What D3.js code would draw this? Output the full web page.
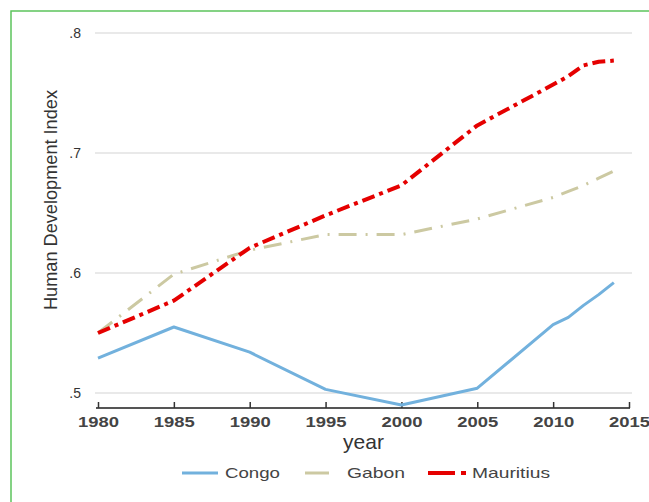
<!DOCTYPE html>
<html>
<head>
<meta charset="utf-8">
<script src="https://cdn.jsdelivr.net/npm/d3@7"></script>
<style>
  body { margin: 0; background: #fff; }
  svg { display: block; font-family: "Liberation Sans", Arial, sans-serif; }
</style>
</head>
<body>
<svg id="chart" width="649" height="502"></svg>
<script>
const years = [1980, 1985, 1990, 1995, 2000, 2005, 2010, 2011, 2012, 2013, 2014];
const congo = [0.529, 0.555, 0.534, 0.503, 0.490, 0.504, 0.557, 0.563, 0.573, 0.582, 0.592];
const gabon = [0.550, 0.599, 0.619, 0.632, 0.632, 0.645, 0.663, 0.668, 0.673, 0.679, 0.685];
const mauritius = [0.550, 0.577, 0.621, 0.648, 0.673, 0.723, 0.757, 0.764, 0.773, 0.776, 0.777];

const xTicks = [1980, 1985, 1990, 1995, 2000, 2005, 2010, 2015];
const yTicks = [0.5, 0.6, 0.7, 0.8];

const series = [
  {name: 'Congo', values: congo, color: '#72b1dd', width: 3, dash: null},
  {name: 'Gabon', values: gabon, color: '#ccc9a2', width: 3, dash: '18,9,2,9'},
  {name: 'Mauritius', values: mauritius, color: '#e50000', width: 4, dash: '13,5,4,5'}
];

const svg = d3.select('#chart');

// green frame round the picture
svg.append('path')
    .attr('d', 'M11,502 V11 H649')
    .attr('fill', 'none')
    .attr('stroke', '#5cc45c')
    .attr('stroke-width', 1.5);

const x = d3.scaleLinear().domain([1980, 2015]).range([98, 629]);
const y = d3.scaleLinear().domain([0.5, 0.8]).range([393, 33]);
const axisY = 408;

// grid
svg.append('g')
  .selectAll('line')
  .data(yTicks)
  .join('line')
    .attr('x1', 95)
    .attr('x2', 632)
    .attr('y1', d => y(d))
    .attr('y2', d => y(d))
    .attr('stroke', '#e2e2e2')
    .attr('stroke-width', 1.5);

// y tick labels
svg.append('g')
  .selectAll('text')
  .data(yTicks)
  .join('text')
    .attr('x', 81)
    .attr('y', d => y(d))
    .attr('dy', '0.35em')
    .attr('text-anchor', 'end')
    .attr('font-size', 14)
    .attr('fill', '#333')
    .text(d => d3.format('.1f')(d).replace(/^0/, ''));

// x axis
const xAxis = svg.append('g')
    .attr('transform', `translate(0,${axisY})`)
    .call(d3.axisBottom(x).tickValues(xTicks).tickFormat(d3.format('d')).tickSize(-6).tickPadding(8));
xAxis.select('.domain').attr('stroke', '#555').attr('stroke-width', 2).attr('d', `M96,0H${x(2015) + 1}`);
xAxis.selectAll('.tick line').attr('stroke', '#333').attr('stroke-width', 1.5);
xAxis.selectAll('.tick text')
    .attr('font-family', '"Liberation Sans", Arial, sans-serif')
    .attr('font-size', 15)
    .attr('font-weight', 'bold')
    .attr('fill', '#444')
    .attr('textLength', 41)
    .attr('lengthAdjust', 'spacingAndGlyphs');

// axis titles
svg.append('text')
    .attr('x', (x(1980) + x(2015)) / 2)
    .attr('y', 449)
    .attr('text-anchor', 'middle')
    .attr('font-size', 21)
    .attr('fill', '#333')
    .text('year');

svg.append('text')
    .attr('transform', `translate(57,200) rotate(-90)`)
    .attr('text-anchor', 'middle')
    .attr('font-size', 19)
    .attr('fill', '#333')
    .attr('textLength', 220)
    .attr('lengthAdjust', 'spacingAndGlyphs')
    .text('Human Development Index');

// lines
const line = d3.line()
    .x((d, i) => x(years[i]))
    .y(d => y(d));

svg.append('g')
  .selectAll('path')
  .data(series)
  .join('path')
    .attr('d', d => line(d.values))
    .attr('fill', 'none')
    .attr('stroke', d => d.color)
    .attr('stroke-width', d => d.width)
    .attr('stroke-dasharray', d => d.dash)
    .attr('stroke-linejoin', 'round');

// legend
const legendKeys = [
  {x1: 182, x2: 218, dash: null, textX: 225, textW: 55},
  {x1: 305, x2: 329, dash: null, textX: 347, textW: 58},
  {x1: 428, x2: 467, dash: '27,6,5,20', textX: 472, textW: 78}
];

const legend = svg.append('g')
  .selectAll('g')
  .data(series)
  .join('g')
    .attr('transform', 'translate(0,473)');

legend.append('line')
    .attr('x1', (d, i) => legendKeys[i].x1)
    .attr('x2', (d, i) => legendKeys[i].x2)
    .attr('stroke', d => d.color)
    .attr('stroke-width', d => d.width)
    .attr('stroke-dasharray', (d, i) => legendKeys[i].dash);

legend.append('text')
    .attr('x', (d, i) => legendKeys[i].textX)
    .attr('dy', '0.35em')
    .attr('font-size', 15)
    .attr('fill', '#444')
    .attr('textLength', (d, i) => legendKeys[i].textW)
    .attr('lengthAdjust', 'spacingAndGlyphs')
    .text(d => d.name);
</script>
</body>
</html>
